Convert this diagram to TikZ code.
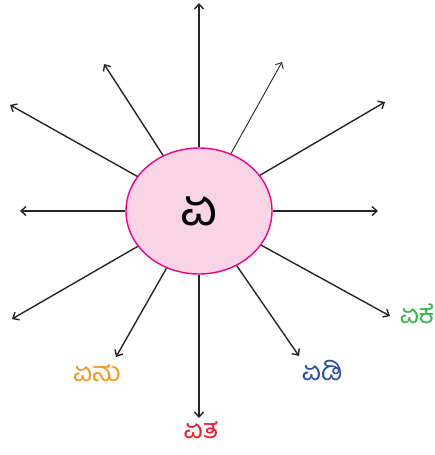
\documentclass[tikz,border=0pt]{standalone}
\usepackage{fontspec}
\newfontfamily\kannada[Script=Kannada]{Hind Mysuru}
\usetikzlibrary{shapes.geometric,arrows.meta}
\definecolor{hubfill}{RGB}{249,212,229}
\definecolor{hubline}{RGB}{236,0,140}
\definecolor{wordorange}{RGB}{247,148,29}
\definecolor{wordred}{RGB}{237,28,36}
\definecolor{wordblue}{RGB}{43,78,162}
\definecolor{wordgreen}{RGB}{57,181,74}

\begin{document}
\begin{tikzpicture}[x=1pt,y=-1pt,
    hub/.style={ellipse,draw=hubline,fill=hubfill,line width=1.4pt,
      minimum width=146pt,minimum height=126pt,inner sep=0pt},
    spoke/.style={-{Straight Barb[length=5pt,width=9pt]},line width=1.4pt,draw=black!85},
    word/.style={inner sep=0pt,text height=17pt,text depth=2pt,
      font=\kannada\fontsize{27}{30}\selectfont}]
  \useasboundingbox (0,0) rectangle (435,455);
  % Centre letter
  \node[hub] (hub) at (199,211) {\kannada\fontsize{52}{56}\selectfont ಏ};
  % Spoke tips, clockwise from the top
  \coordinate (t1) at (199,3);
  \coordinate (t2) at (282,62);
  \coordinate (t3) at (385,102);
  \coordinate (t4) at (378,211);
  \coordinate (t5) at (390,316);
  \coordinate (t6) at (299,356);
  \coordinate (t7) at (199,418);
  \coordinate (t8) at (116,357);
  \coordinate (t9) at (12,319);
  \coordinate (t10) at (20,211);
  \coordinate (t11) at (10,105);
  \coordinate (t12) at (104,64);
  \foreach \t in {t1,t3,t4,t5,t6,t7,t8,t9,t10,t11,t12}
    \draw[spoke] (hub) -- (\t);
  \draw[spoke,line width=0.9pt] (hub) -- (t2);
  % Words
  \node[word,text=wordorange] (enu) at (97,374) {ಏನು};
  \node[word,text=wordred] (eta) at (201,431) {ಏತ};
  \node[word,text=wordblue] (edi) at (322,373) {ಏಡಿ};
  \node[word,text=wordgreen] (eke) at (417,316) {ಏಕೆ};
\end{tikzpicture}
\end{document}
